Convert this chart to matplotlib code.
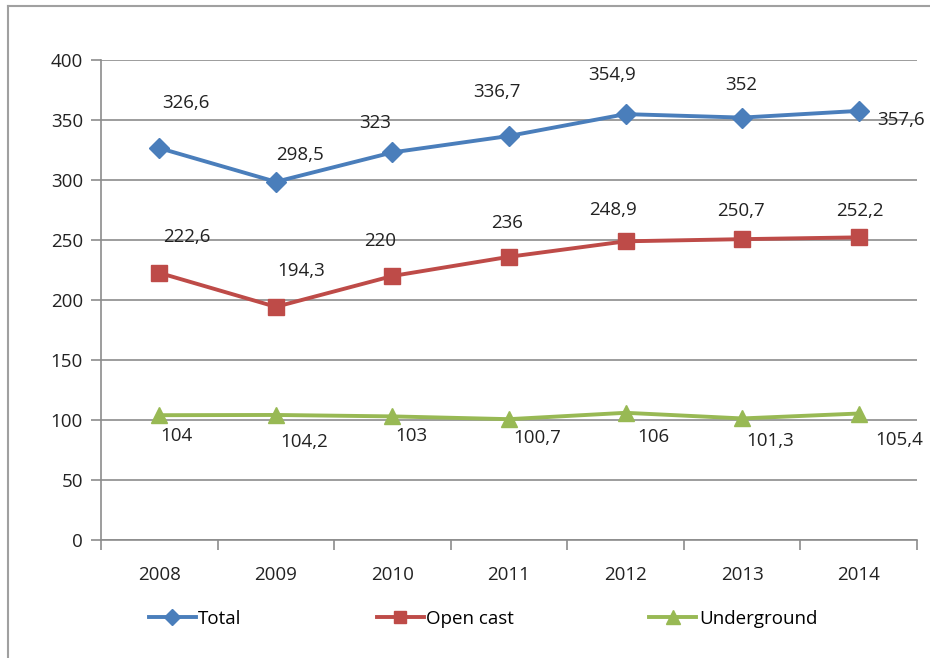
import matplotlib
matplotlib.use("Agg")
import matplotlib.pyplot as plt
from matplotlib.lines import Line2D

years = ["2008", "2009", "2010", "2011", "2012", "2013", "2014"]
total = [326.6, 298.5, 323, 336.7, 354.9, 352, 357.6]
open_cast = [222.6, 194.3, 220, 236, 248.9, 250.7, 252.2]
underground = [104, 104.2, 103, 100.7, 106, 101.3, 105.4]
y_ticks = [0, 50, 100, 150, 200, 250, 300, 350, 400]

def fmt(v):
    s = ("%.1f" % v).rstrip("0").rstrip(".")
    return s.replace(".", ",")

FONT = ["Open Sans", "DejaVu Sans"]
plt.rcParams['font.family'] = FONT
FS = 13.5

fig = plt.figure(figsize=(9.3, 6.58), dpi=100)
W, H = 930, 658
ax = fig.add_axes([101 / W, 1 - 540 / H, 816 / W, 480 / H])

# figure frame
fig.add_artist(Line2D([8 / W, 8 / W], [0, 1 - 6 / H], transform=fig.transFigure, color="#a0a0a0", lw=1.5))
fig.add_artist(Line2D([8 / W, 1], [1 - 6 / H, 1 - 6 / H], transform=fig.transFigure, color="#a0a0a0", lw=1.5))

x = list(range(len(years)))
c_tot, c_open, c_und = "#4A7EBB", "#BE4B48", "#98B954"
ax.plot(x, total, color=c_tot, lw=2.8, marker="D", ms=10, label="Total", zorder=3)
ax.plot(x, open_cast, color=c_open, lw=2.8, marker="s", ms=11, label="Open cast", zorder=3)
ax.plot(x, underground, color=c_und, lw=2.8, marker="^", ms=12, label="Underground", zorder=3)

# label offsets in pixels (dx, dy), styling only
off_tot = [(27, 45), (24, 27), (-17, 29), (-12, 44), (-14, 39), (-1, 33), (42, -9)]
off_open = [(28, 36), (25, 36), (-12, 35), (-2, 34), (-13, 31), (-1, 28), (1, 26)]
off_und = [(17, -21), (28, -27), (19, -20), (28, -19), (28, -24), (28, -23), (41, -26)]
for series, offs in ((total, off_tot), (open_cast, off_open), (underground, off_und)):
    for xi, v, (dx, dy) in zip(x, series, offs):
        ax.annotate(fmt(v), (xi, v), xytext=(dx * 0.72, dy * 0.72), textcoords="offset points",
                    ha="center", va="center", fontsize=FS, color="#222222")

ax.set_xlim(-0.5, len(years) - 0.5)
ax.set_ylim(0, 400)
ax.set_yticks(y_ticks)
ax.set_yticklabels([str(t) for t in y_ticks])
ax.set_xticks(x)
ax.set_xticklabels(years)
ax.set_xticks([i - 0.5 for i in range(len(years) + 1)], minor=True)
ax.tick_params(axis="x", which="major", length=0, pad=19, labelsize=FS, colors="#222222")
ax.tick_params(axis="x", which="minor", length=7, color="#8c8c8c", width=1.2)
ax.tick_params(axis="y", length=7, color="#8c8c8c", width=1.2, pad=6, labelsize=FS, colors="#222222")
ax.yaxis.grid(True, color="#8c8c8c", lw=1.2)
ax.set_axisbelow(True)
for s in ("top", "right"):
    ax.spines[s].set_visible(False)
for s in ("left", "bottom"):
    ax.spines[s].set_color("#8c8c8c")
    ax.spines[s].set_linewidth(1.2)

leg = fig.legend(loc="center", bbox_to_anchor=(483 / W, 1 - 619 / H), ncol=3, frameon=False,
                 fontsize=FS, handlelength=2.5, handletextpad=0.15, columnspacing=7.2,
                 markerscale=0.8)

fig.savefig("out.png", dpi=100)
